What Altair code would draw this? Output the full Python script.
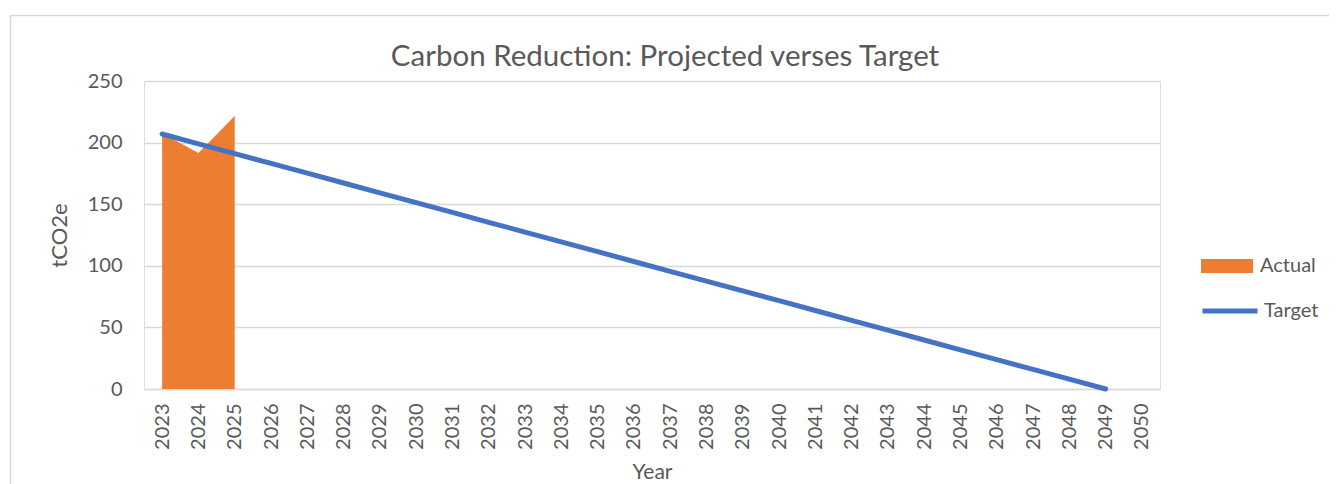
import altair as alt
import pandas as pd

years = ["2023", "2024", "2025", "2026", "2027", "2028", "2029", "2030", "2031", "2032",
         "2033", "2034", "2035", "2036", "2037", "2038", "2039", "2040", "2041", "2042",
         "2043", "2044", "2045", "2046", "2047", "2048", "2049", "2050"]
actual_years = ["2023", "2024", "2025"]
actual_values = [207.5, 191.5, 221.5]
target_years = years[:27]
target_values = [207.0, 199.0, 191.1, 183.1, 175.2, 167.2, 159.2, 151.3, 143.3, 135.3,
                 127.4, 119.4, 111.5, 103.5, 95.5, 87.6, 79.6, 71.7, 63.7, 55.7,
                 47.8, 39.8, 31.8, 23.9, 15.9, 8.0, 0.0]
title_text = "Carbon Reduction: Projected verses Target"

FONT = "Lato"
GREY = "#595959"
GRID = "#d9d9d9"

actual_df = pd.DataFrame({"Year": actual_years, "tCO2e": actual_values, "series": "Actual"})
target_df = pd.DataFrame({"Year": target_years, "tCO2e": target_values, "series": "Target"})

x_enc = alt.X("Year:O", scale=alt.Scale(domain=years, type="point", padding=0.5),
              axis=alt.Axis(title="Year", labelAngle=-90, labelPadding=14, ticks=False,
                            domainColor=GRID, domainWidth=1.5, grid=False,
                            labelFontSize=20, titleFontSize=21, titlePadding=12,
                            labelColor=GREY, titleColor=GREY, titleFontWeight="normal",
                            labelFont=FONT, titleFont=FONT))
y_scale = alt.Scale(domain=[0, 250])
y_axis = alt.Axis(title="tCO2e", values=[0, 50, 100, 150, 200, 250], ticks=False, domain=False,
                  gridColor=GRID, gridWidth=1.4, labelPadding=22, labelFontSize=20,
                  titleFontSize=22, titlePadding=16, labelColor=GREY, titleColor=GREY,
                  titleFontWeight="normal", labelFont=FONT, titleFont=FONT)

area = alt.Chart(actual_df).mark_area(opacity=1).encode(
    x=x_enc,
    y=alt.Y("tCO2e:Q", scale=y_scale, axis=y_axis),
    fill=alt.Fill("series:N", scale=alt.Scale(domain=["Actual"], range=["#ED7D31"]),
                  legend=alt.Legend(title=None, orient="none", legendX=1056, legendY=158,
                                    symbolType="M-1,-0.27H1V0.27H-1Z", symbolSize=2704,
                                    symbolOpacity=1, labelFontSize=20, labelColor=GREY,
                                    labelFont=FONT, labelOffset=6, padding=0)),
)

line = alt.Chart(target_df).mark_line(strokeWidth=5, strokeCap="round").encode(
    x=alt.X("Year:O", scale=alt.Scale(domain=years, type="point", padding=0.5)),
    y=alt.Y("tCO2e:Q", scale=y_scale),
    stroke=alt.Stroke("series:N", scale=alt.Scale(domain=["Target"], range=["#4472C4"]),
                      legend=alt.Legend(title=None, orient="none", legendX=1056, legendY=200,
                                        symbolType="stroke", symbolSize=3025,
                                        symbolStrokeWidth=5, labelFontSize=20,
                                        labelColor=GREY, labelFont=FONT, labelOffset=4,
                                        padding=0)),
)

one = pd.DataFrame({"t": [title_text]})
title = alt.Chart(one).mark_text(fontSize=29.5, font=FONT, color=GREY, baseline="alphabetic",
                                 align="center").encode(
    text="t:N", x=alt.value(521), y=alt.value(-15))

border_v = alt.Chart(one).mark_rule(color=GRID, strokeWidth=1.5, clip=False).encode(
    x=alt.value(-133.5), y=alt.value(-65.5), y2=alt.value(460))
border_h = alt.Chart(one).mark_rule(color=GRID, strokeWidth=1.5, clip=False).encode(
    x=alt.value(-133.5), x2=alt.value(1250), y=alt.value(-65.5))

chart = alt.layer(border_v, border_h, area, line, title).resolve_scale(
    fill="independent", stroke="independent"
).properties(
    width=1016, height=308,
    autosize=alt.AutoSizeParams(type="none"),
    padding={"left": 136, "top": 73, "right": 169, "bottom": 110},
).configure_view(stroke=None).configure(background="white")

chart.save("out.html", embed_options={"renderer": "svg", "actions": False})
